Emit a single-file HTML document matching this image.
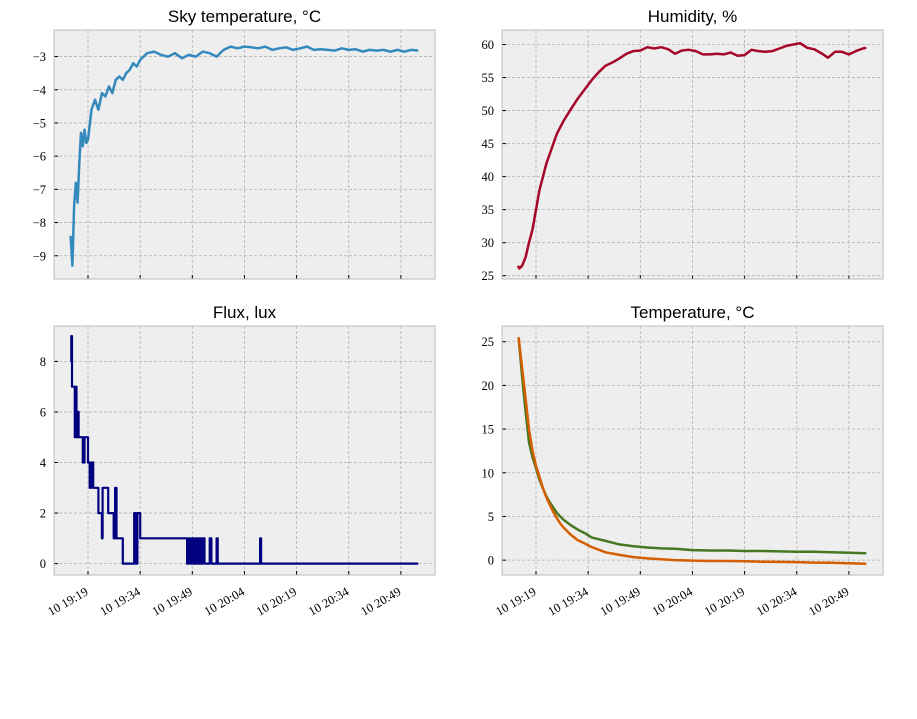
<!DOCTYPE html>
<html><head><meta charset="utf-8"><style>
body{margin:0;background:#fff;}
svg{display:block;}
.t{font-family:"Liberation Sans",sans-serif;font-size:17px;fill:#000;}
.k{font-family:"Liberation Serif",serif;font-size:12.5px;fill:#000;}
</style></head><body>
<svg id="fig" width="917" height="719" xmlns="http://www.w3.org/2000/svg"></svg>
<script>
// time in minutes relative to 19:19
const xTickLabels=["10 19:19","10 19:34","10 19:49","10 20:04","10 20:19","10 20:34","10 20:49"];
const xTickTimes=[0,15,30,45,60,75,90];
const skyT=[-5,-4.5,-4,-3.5,-3,-2.5,-2,-1.5,-1,-0.5,0,1,2,3,4,5,6,7,8,9,10,11,12,13,14,15,17,19,21,23,25,27,29,31,33,35,37,39,41,43,45,47,49,51,53,55,57,59,61,63,65,67,69,71,73,75,77,79,81,83,85,87,89,91,93,95];
const skyV=[-8.4,-9.3,-7.5,-6.8,-7.4,-6.2,-5.3,-5.7,-5.2,-5.6,-5.5,-4.6,-4.3,-4.6,-4.1,-4.2,-3.9,-4.1,-3.7,-3.6,-3.7,-3.5,-3.4,-3.2,-3.3,-3.1,-2.9,-2.85,-2.95,-3.0,-2.9,-3.05,-2.95,-3.0,-2.85,-2.9,-3.0,-2.8,-2.7,-2.75,-2.7,-2.72,-2.75,-2.7,-2.8,-2.75,-2.72,-2.8,-2.75,-2.7,-2.8,-2.78,-2.8,-2.82,-2.75,-2.8,-2.78,-2.85,-2.8,-2.82,-2.8,-2.85,-2.8,-2.85,-2.8,-2.82];
const humT=[-5.2,-4.8,-4,-3,-2,-1,0,1,2,3,4,5,6,8,10,12,14,16,18,20,22,24,26,28,30,32,34,36,38,40,42,44,46,48,50,52,54,56,58,60,62,64,66,68,70,72,74,76,78,80,82,84,86,88,90,92,94,95];
const humV=[26.5,26.1,26.5,27.8,30,32,35,38,40,42,43.5,45,46.5,48.5,50.2,51.8,53.2,54.6,55.8,56.8,57.3,57.9,58.6,59,59.1,59.6,59.4,59.6,59.3,58.6,59.1,59.2,59.0,58.5,58.5,58.6,58.5,58.8,58.3,58.4,59.2,59.0,58.9,59.0,59.4,59.8,60.0,60.2,59.5,59.3,58.7,58.0,58.9,58.9,58.5,59.0,59.4,59.5];
const fluxT=[-5,-4.8,-4.6,-4.2,-3.8,-3.6,-3.3,-3.0,-2.7,-2.4,-2,-1.5,-1,0,0.5,1,1.5,2,3,4,4.2,4.6,5.8,7,7.4,7.8,8.2,10,13.3,13.8,14.2,15,28.5,29,29.5,30,30.5,31,31.5,32,32.5,33,33.5,35,35.5,37,37.3,49.5,49.8,95];
const fluxV=[8,9,7,7,5,7,5,6,5,5,5,4,5,4,3,4,3,3,2,1,3,3,2,2,1,3,1,0,2,0,2,1,0,1,0,1,0,1,0,1,0,1,0,1,0,1,0,1,0,0];
const tempT=[-5,-4,-3,-2,-1,0,1,2,3,4,5,6,7,8,9,10,12,14,16,18,20,24,28,32,36,40,45,50,55,60,65,70,75,80,85,90,95];
const tempA=[25.5,21,17,13.5,11.8,10.5,9.2,8.2,7.3,6.6,6,5.4,5,4.6,4.3,4,3.5,3.1,2.6,2.4,2.2,1.8,1.6,1.45,1.35,1.3,1.15,1.1,1.1,1.05,1.05,1.0,0.95,0.95,0.9,0.85,0.8];
const tempB=[25.5,22,18.5,15,12.5,10.8,9.5,8.2,7.2,6.3,5.5,4.8,4.2,3.7,3.3,2.9,2.3,1.9,1.5,1.2,0.9,0.6,0.35,0.2,0.1,0.0,-0.05,-0.1,-0.1,-0.12,-0.18,-0.2,-0.22,-0.28,-0.3,-0.35,-0.42];

const NS="http://www.w3.org/2000/svg";
const fig=document.getElementById('fig');
function mk(tag,attrs,parent){const e=document.createElementNS(NS,tag);for(const k in attrs)e.setAttribute(k,attrs[k]);(parent||fig).appendChild(e);return e;}

function panel(name,x0,x1,y0,y1,t0,ppm,vmin,vmax,yTicks,title,showX,series){
  const g=mk('g',{});
  
  
  const bg=mk('rect',{x:x0,y:y0,width:x1-x0,height:y1-y0,fill:'#eeeeee'},g);
  
  
  const xs=t=>t0+t*ppm;
  const ys=v=>y1-(v-vmin)/(vmax-vmin)*(y1-y0);
  xTickTimes.forEach((t,i)=>{
    const x=xs(t);
    mk('line',{x1:x,x2:x,y1:y0,y2:y1,stroke:'#b2b2b2','stroke-width':0.8,'stroke-dasharray':'3,2'},g);
    mk('line',{x1:x,x2:x,y1:y1,y2:y1-4,stroke:'#000','stroke-width':1},g);
    if(showX){const ax=x+1, ay=y1+19;const tx=mk('text',{class:'k',x:ax,y:ay,'text-anchor':'end',transform:`rotate(-30 ${ax} ${ay})`},g);tx.textContent=xTickLabels[i];
      }
  });
  yTicks.forEach(v=>{
    const y=ys(v);
    mk('line',{x1:x0,x2:x1,y1:y,y2:y,stroke:'#b2b2b2','stroke-width':0.8,'stroke-dasharray':'3,2'},g);
    mk('line',{x1:x0,x2:x0+4,y1:y,y2:y,stroke:'#000','stroke-width':1},g);
    const tx=mk('text',{class:'k',x:x0-8,y:y+4.5,'text-anchor':'end'},g);
    tx.textContent=(v<0?'\u2212'+(-v):String(v));
    
  });
  series.forEach(s=>{
    let pts=[];
    for(let i=0;i<s.t.length;i++){
      if(s.step&&i>0)pts.push(xs(s.t[i]).toFixed(1)+','+ys(s.v[i-1]).toFixed(1));
      pts.push(xs(s.t[i]).toFixed(1)+','+ys(s.v[i]).toFixed(1));
    }
    const p=mk('polyline',{points:pts.join(' '),fill:'none',stroke:s.c,'stroke-width':s.w||2.5,'stroke-linejoin':'round'},g);
    
    
  });
  mk('rect',{x:x0,y:y0,width:x1-x0,height:y1-y0,fill:'none',stroke:'#bcbcbc','stroke-width':1},g);
  const tt=mk('text',{class:'t',x:(x0+x1)/2,y:y0-8,'text-anchor':'middle'},g);
  tt.textContent=title;
  
  
}
const ppm=52.15/15;
panel('sky-temperature-panel',54,435,30,279,88,ppm,-9.7,-2.2,[-3,-4,-5,-6,-7,-8,-9],'Sky temperature, \u00B0C',false,[{t:skyT,v:skyV,c:'#348abd',n:'sky-temp-line'}]);
panel('humidity-panel',502,883,30,279,536,ppm,24.5,62.2,[25,30,35,40,45,50,55,60],'Humidity, %',false,[{t:humT,v:humV,c:'#a60628',n:'humidity-line'}]);
panel('flux-panel',54,435,326,575,88,ppm,-0.45,9.4,[0,2,4,6,8],'Flux, lux',true,[{t:fluxT,v:fluxV,c:'#000080',n:'flux-line',step:true,w:2.2}]);
panel('temperature-panel',502,883,326,575,536,ppm,-1.7,26.8,[0,5,10,15,20,25],'Temperature, \u00B0C',true,[{t:tempT,v:tempA,c:'#467821',n:'temp-line-green'},{t:tempT,v:tempB,c:'#d55e00',n:'temp-line-orange'}]);
</script>
</body></html>
